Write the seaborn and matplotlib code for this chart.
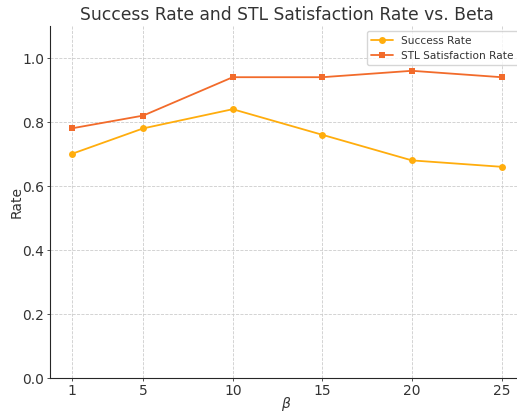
import matplotlib
matplotlib.use('Agg')
import matplotlib.pyplot as plt
import seaborn as sns
import pandas as pd

beta = [1, 5, 10, 15, 20, 25]
success_rate = [0.70, 0.78, 0.84, 0.76, 0.68, 0.66]
stl_rate = [0.78, 0.82, 0.94, 0.94, 0.96, 0.94]

df = pd.DataFrame({'beta': beta, 'Success Rate': success_rate, 'STL Satisfaction Rate': stl_rate})

sns.set_style('ticks')
plt.rcParams['font.family'] = ['DejaVu Sans']
plt.rcParams['text.color'] = '#333333'
plt.rcParams['axes.labelcolor'] = '#333333'
plt.rcParams['xtick.color'] = '#333333'
plt.rcParams['ytick.color'] = '#333333'

fig = plt.figure(figsize=(5.17, 4.13), dpi=100)
# axes runs a little past the right edge, as in the cropped original
ax = fig.add_axes([50 / 517, 35 / 413, 473 / 517, 352 / 413])

sns.lineplot(data=df, x='beta', y='Success Rate', marker='o', color='#FFAD0D',
             markeredgewidth=0, markersize=5, linewidth=1.3, label='Success Rate', ax=ax)
sns.lineplot(data=df, x='beta', y='STL Satisfaction Rate', marker='s', color='#F26B2B',
             markeredgewidth=0, markersize=5, linewidth=1.3, label='STL Satisfaction Rate', ax=ax)

ax.set_xlim(-0.2, 26.2)
ax.set_ylim(0, 1.1)
ax.set_xticks(beta)
ax.set_yticks([0.0, 0.2, 0.4, 0.6, 0.8, 1.0])
ax.tick_params(labelsize=10, length=2, width=0.6, pad=2)
ax.grid(True, linestyle='--', linewidth=0.6, color='#cccccc')
ax.set_xlabel(r'$\beta$', fontsize=10, labelpad=-2)
ax.set_ylabel('Rate', fontsize=10, labelpad=-1)
ax.set_title('Success Rate and STL Satisfaction Rate vs. Beta', fontsize=12.3, pad=4)
sns.despine(ax=ax)
ax.legend(loc='upper right', fontsize=7.6, frameon=True)

fig.savefig('out.png', dpi=100)
